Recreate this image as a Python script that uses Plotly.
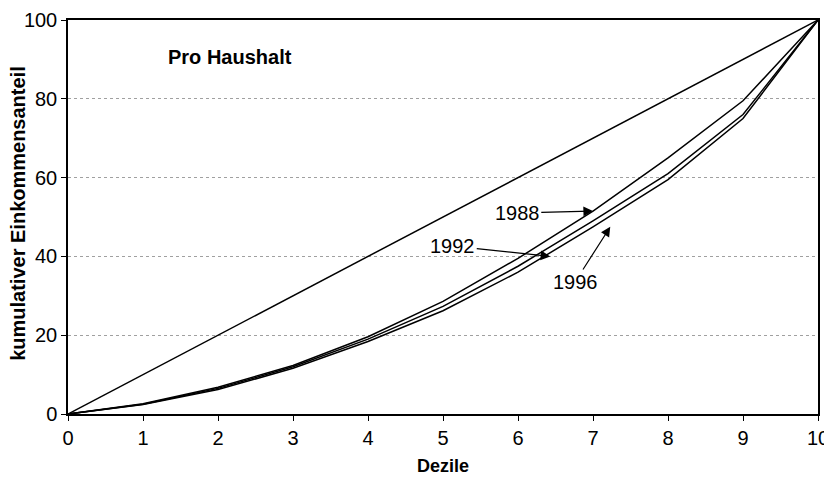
import plotly.graph_objects as go

# Lorenz-Kurven pro Haushalt, kumulativer Einkommensanteil je Dezil
dezile = [0, 1, 2, 3, 4, 5, 6, 7, 8, 9, 10]
gleichverteilung = [0, 10, 20, 30, 40, 50, 60, 70, 80, 90, 100]
anteil_1988 = [0, 2.6, 6.8, 12.3, 19.6, 28.6, 39.5, 51.5, 65.0, 79.5, 100]
anteil_1992 = [0, 2.5, 6.5, 12.0, 19.0, 27.3, 37.5, 49.0, 61.0, 76.0, 100]
anteil_1996 = [0, 2.4, 6.2, 11.6, 18.4, 26.2, 36.0, 47.5, 59.5, 75.0, 100]

FONT = "Liberation Sans, Arial, sans-serif"

fig = go.Figure()
for name, ys in [("Gleichverteilung", gleichverteilung), ("1988", anteil_1988),
                 ("1992", anteil_1992), ("1996", anteil_1996)]:
    fig.add_trace(
        go.Scatter(
            x=dezile,
            y=ys,
            mode="lines",
            name=name,
            line=dict(color="black", width=1.5),
            showlegend=False,
        )
    )

# Beschriftungen mit Pfeilen: (Text, Pfeilspitze x/y, Textposition x/y)
labels = [
    ("1988", 7.0, 51.5, 5.99, 51.0),
    ("1992", 6.43, 40.0, 5.13, 42.6),
    ("1996", 7.23, 47.5, 6.76, 33.5),
]
for text, x, y, ax, ay in labels:
    fig.add_annotation(
        x=x, y=y, ax=ax, ay=ay, xref="x", yref="y", axref="x", ayref="y",
        text=text, showarrow=True, arrowhead=2, arrowsize=1.6, arrowwidth=1.2,
        arrowcolor="black", font=dict(size=20, color="black", family=FONT),
    )

fig.add_annotation(
    x=1.3, y=90.6, xref="x", yref="y", xanchor="left", showarrow=False,
    text="<b>Pro Haushalt</b>", font=dict(size=20, color="black", family=FONT),
)

# Achsentitel
fig.add_annotation(
    x=0.5, y=-0.132, xref="paper", yref="paper", xanchor="center", yanchor="middle",
    showarrow=False, text="<b>Dezile</b>", font=dict(size=18, color="black", family=FONT),
)
fig.add_annotation(
    x=-0.067, y=0.51, xref="paper", yref="paper", xanchor="center", yanchor="middle",
    showarrow=False, textangle=-90,
    text="<b>kumulativer Einkommensanteil</b>", font=dict(size=20, color="black", family=FONT),
)

axis_common = dict(
    showline=True, linecolor="black", linewidth=1.5, mirror=True,
    ticks="outside", ticklen=5, tickcolor="black",
    tickfont=dict(size=20, color="black", family=FONT),
    zeroline=False, automargin=False,
)

fig.update_layout(
    width=824,
    height=470,
    paper_bgcolor="white",
    plot_bgcolor="white",
    margin=dict(l=60, r=14, t=12, b=64),
    xaxis=dict(range=[0, 10], tickvals=dezile, showgrid=False, **axis_common),
    yaxis=dict(
        range=[0, 100], tickvals=[0, 20, 40, 60, 80, 100],
        showgrid=True, gridcolor="#a0a0a0", griddash="dot", gridwidth=1,
        **axis_common,
    ),
)

fig.write_html("out.html")
